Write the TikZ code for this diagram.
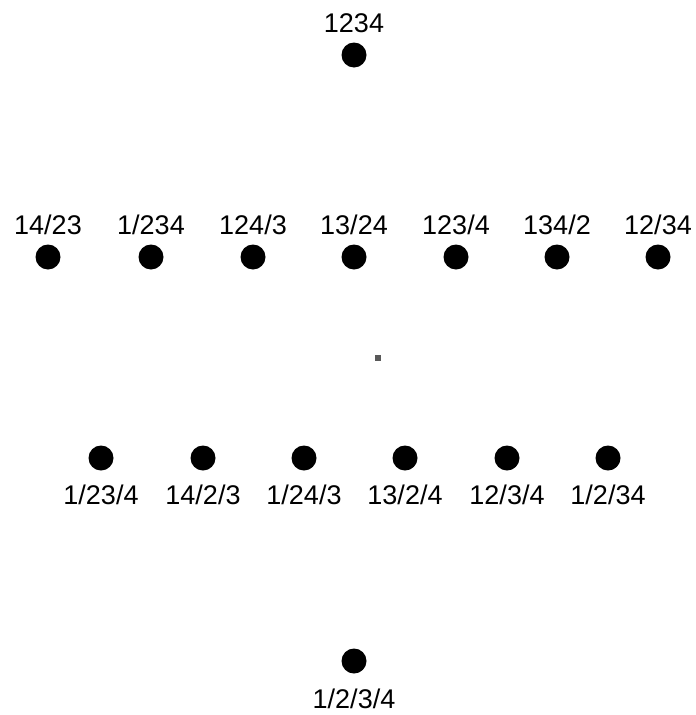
\documentclass[tikz,border=0pt]{standalone}
\usepackage{fontspec}
\setmainfont{Liberation Sans}
\begin{document}
\begin{tikzpicture}[x=1pt,y=-1pt,
  dot/.style={circle,fill=black,inner sep=0pt,minimum size=25pt},
  lab/.style={anchor=base,inner sep=0pt,font=\fontsize{27}{31}\selectfont}]
\useasboundingbox (0,0) rectangle (696,715);
% top element
\node[dot] (a1234) at (354,55) {};
\node[lab] (t1234) at (354,32) {1234};
% rank 2: two blocks
\node[dot] (a14-23) at (48,257) {};
\node[dot] (a1-234) at (151,257) {};
\node[dot] (a124-3) at (253,257) {};
\node[dot] (a13-24) at (354,257) {};
\node[dot] (a123-4) at (456,257) {};
\node[dot] (a134-2) at (557,257) {};
\node[dot] (a12-34) at (658,257) {};
\node[lab] (t14-23) at (48,234) {14/23};
\node[lab] (t1-234) at (151,234) {1/234};
\node[lab] (t124-3) at (253,234) {124/3};
\node[lab] (t13-24) at (354,234) {13/24};
\node[lab] (t123-4) at (456,234) {123/4};
\node[lab] (t134-2) at (557,234) {134/2};
\node[lab] (t12-34) at (658,234) {12/34};
% rank 3: three blocks
\node[dot] (b1-23-4) at (101,458) {};
\node[dot] (b14-2-3) at (203,458) {};
\node[dot] (b1-24-3) at (304,458) {};
\node[dot] (b13-2-4) at (405,458) {};
\node[dot] (b12-3-4) at (507,458) {};
\node[dot] (b1-2-34) at (608,458) {};
\node[lab] (u1-23-4) at (101,504) {1/23/4};
\node[lab] (u14-2-3) at (203,504) {14/2/3};
\node[lab] (u1-24-3) at (304,504) {1/24/3};
\node[lab] (u13-2-4) at (405,504) {13/2/4};
\node[lab] (u12-3-4) at (507,504) {12/3/4};
\node[lab] (u1-2-34) at (608,504) {1/2/34};
% bottom element
\node[dot] (c1-2-3-4) at (354,661) {};
\node[lab] (v1-2-3-4) at (354,708) {1/2/3/4};
% small grey speck
\fill[black!65] (375,355) rectangle (381,361);
\end{tikzpicture}
\end{document}
